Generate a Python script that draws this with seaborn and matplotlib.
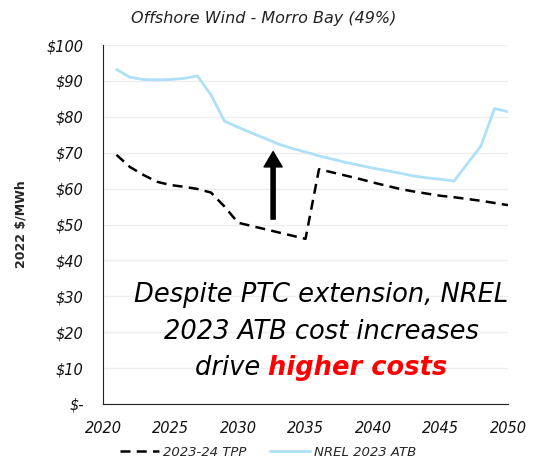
import pandas as pd
import matplotlib
matplotlib.use("Agg")
import matplotlib.pyplot as plt
import matplotlib.ticker as ticker
import seaborn as sns

years = list(range(2021, 2051))
tpp = [69.4, 66.0, 63.8, 61.9, 61.0, 60.5, 59.9, 58.9, 55.0, 50.5,
       49.6, 48.7, 47.8, 46.9, 46.0, 65.4, 64.5, 63.6, 62.7, 61.7,
       60.8, 59.9, 59.2, 58.6, 58.0, 57.6, 57.1, 56.6, 56.0, 55.4]
atb = [93.2, 91.0, 90.4, 90.3, 90.4, 90.7, 91.4, 86.1, 78.8, 77.1,
       75.5, 74.0, 72.4, 71.2, 70.2, 69.1, 68.2, 67.3, 66.5, 65.7,
       65.0, 64.3, 63.5, 63.0, 62.6, 62.1, 67.0, 71.9, 82.3, 81.4]
series_names = ["2023-24 TPP", "NREL 2023 ATB"]
title = "Offshore Wind - Morro Bay (49%)"
ylabel = "2022 $/MWh"
note_lines = ["Despite PTC extension, NREL", "2023 ATB cost increases"]
note_plain = "drive "
note_red = "higher costs"


def money(v, pos):
    if round(v) == 0:
        return "$-"
    return f"${v:.0f}"


def main():
    sns.set_style("white")
    plt.rcParams["font.family"] = ["DejaVu Sans"]

    df = pd.DataFrame({"year": years, series_names[0]: tpp, series_names[1]: atb})

    fig = plt.figure(figsize=(5.37, 4.65), dpi=100)
    ax = fig.add_axes([0.1918, 0.1312, 0.7542, 0.772])

    sns.lineplot(data=df, x="year", y=series_names[0], ax=ax, color="black",
                 linewidth=1.8, label=series_names[0])
    ax.lines[-1].set_dashes([4, 2.5])
    sns.lineplot(data=df, x="year", y=series_names[1], ax=ax, color="#aee0f7",
                 linewidth=2.0, label=series_names[1])

    ax.set_xlim(2020, 2050)
    ax.set_ylim(0, 100)
    ax.xaxis.set_major_locator(ticker.MultipleLocator(5))
    ax.yaxis.set_major_locator(ticker.MultipleLocator(10))
    ax.yaxis.set_major_formatter(ticker.FuncFormatter(money))
    ax.grid(axis="y", color="#eeeeee", linewidth=1)
    ax.set_axisbelow(True)
    for s in ["top", "right"]:
        ax.spines[s].set_visible(False)
    ax.spines["left"].set_color("#222222")
    ax.spines["bottom"].set_color("#222222")
    ax.tick_params(axis="both", length=0, labelsize=10.5)
    ax.tick_params(axis="x", pad=12)
    ax.tick_params(axis="y", pad=14)
    for lab in ax.get_xticklabels() + ax.get_yticklabels():
        lab.set_fontstyle("italic")
        lab.set_color("#111111")
    ax.set_xlabel("")
    ax.set_ylabel(ylabel, fontsize=9, fontweight="bold", labelpad=14)

    ax.annotate("", xy=(2032.6, 70.3), xytext=(2032.6, 51.5),
                arrowprops=dict(width=3, headwidth=13, headlength=11, color="black"))

    fig.text(264 / 537, 1 - 18 / 465, title, ha="center", va="center",
             fontsize=11.5, fontstyle="italic", color="#222222")

    cx = 321 / 537
    fs = 18.5
    for i, line in enumerate(note_lines):
        fig.text(cx, 1 - (295 + 37 * i) / 465, line, ha="center", va="center",
                 fontsize=fs, fontstyle="italic", color="black")
    y3 = 1 - 368 / 465
    t1 = fig.text(0, y3, note_plain, ha="left", va="center", fontsize=fs,
                  fontstyle="italic", color="black")
    t2 = fig.text(0, y3, note_red, ha="left", va="center", fontsize=fs,
                  fontstyle="italic", fontweight="bold", color="#ff0000")
    fig.canvas.draw()
    r = fig.canvas.get_renderer()
    w1 = t1.get_window_extent(r).width / fig.bbox.width
    w2 = t2.get_window_extent(r).width / fig.bbox.width
    x0 = cx - (w1 + w2) / 2
    t1.set_x(x0)
    t2.set_x(x0 + w1)

    ax.get_legend().remove()
    handles, labels = ax.get_legend_handles_labels()
    fig.legend(handles, labels, loc="center", bbox_to_anchor=(268 / 537, 1 - 452 / 465),
               ncol=2, frameon=False, handlelength=3.0, columnspacing=1.8,
               handletextpad=0.3, prop={"style": "italic", "size": 9.5})

    fig.savefig("out.png", dpi=100)


if __name__ == "__main__":
    main()
